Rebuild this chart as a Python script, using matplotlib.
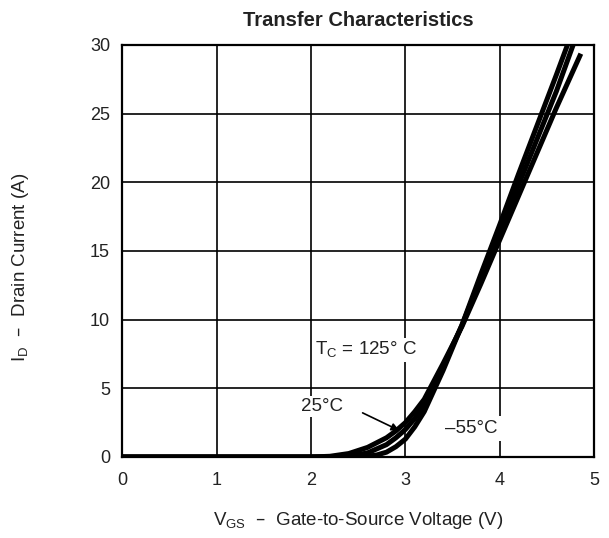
import matplotlib
matplotlib.use("Agg")
import matplotlib.pyplot as plt

plt.rcParams['font.family'] = ['Liberation Sans', 'DejaVu Sans']

# curves (Vgs in V, Id in A)
vgs_m55 = [0.0, 2.4, 2.6, 2.7, 2.8, 2.9, 3.0, 3.1, 3.2, 3.4, 3.6, 3.8, 4.0, 4.2, 4.4, 4.6, 4.8]
id_m55 = [0.0, 0.0, 0.05, 0.15, 0.35, 0.75, 1.3, 2.2, 3.3, 6.3, 9.6, 13.3, 16.9, 20.6, 24.2, 27.8, 31.5]

vgs_25 = [0.0, 2.2, 2.4, 2.6, 2.8, 2.9, 3.0, 3.1, 3.2, 3.4, 3.6, 3.8, 4.0, 4.2, 4.4, 4.6, 4.8]
id_25 = [0.0, 0.0, 0.05, 0.3, 0.9, 1.4, 2.0, 2.8, 3.8, 6.6, 9.6, 13.0, 16.4, 19.8, 23.2, 26.6, 30.4]

vgs_125 = [0.0, 2.0, 2.2, 2.4, 2.6, 2.8, 2.9, 3.0, 3.1, 3.2, 3.4, 3.6, 3.8, 4.0, 4.2, 4.4, 4.6, 4.85]
id_125 = [0.0, 0.0, 0.05, 0.25, 0.7, 1.4, 1.9, 2.5, 3.3, 4.2, 6.8, 9.5, 12.6, 15.8, 19.0, 22.2, 25.4, 29.2]

x_ticks = [0, 1, 2, 3, 4, 5]
y_ticks = [0, 5, 10, 15, 20, 25, 30]

fig = plt.figure(figsize=(6.09, 5.38), dpi=100)
ax = fig.add_axes([0.2011, 0.1506, 0.7742, 0.7658])

for v, i in [(vgs_m55, id_m55), (vgs_25, id_25), (vgs_125, id_125)]:
    ax.plot(v, i, color='black', linewidth=3.6, zorder=3)

ax.set_xlim(0, 5)
ax.set_ylim(0, 30)
ax.set_xticks(x_ticks)
ax.set_yticks(y_ticks)
ax.grid(True, color='black', linewidth=1.2)
ax.tick_params(length=0, labelsize=13, colors='#222222')
ax.tick_params(axis='x', pad=11)
ax.tick_params(axis='y', pad=9)
for s in ax.spines.values():
    s.set_linewidth(1.6)

box = dict(facecolor='white', edgecolor='none', pad=1.5)
ax.text(2.58, 7.8, 'T$_\\mathregular{C}$ = 125° C', fontsize=13.5, ha='center', va='center',
        bbox=box, zorder=4, color='#222222')
ax.text(2.12, 3.66, '25°C', fontsize=13.5, ha='center', va='center', bbox=box, zorder=4,
        color='#222222')
ax.text(3.70, 2.1, '–55°C', fontsize=13.5, ha='center', va='center',
        bbox=dict(facecolor='white', edgecolor='none', pad=3), zorder=4, color='#222222')
ax.annotate('', xy=(2.96, 1.85), xytext=(2.52, 3.3),
            arrowprops=dict(arrowstyle='-|>', color='black', lw=1.2, mutation_scale=11), zorder=5)

ax.set_title('Transfer Characteristics', fontsize=14.5, fontweight='bold', pad=14, color='#222222')
ax.set_xlabel('V$_\\mathregular{GS}$  –  Gate-to-Source Voltage (V)', fontsize=13.5, color='#222222')
ax.set_ylabel('I$_\\mathregular{D}$  –  Drain Current (A)', fontsize=13.5, color='#222222')
ax.xaxis.label.set_va('center')
ax.yaxis.label.set_va('center')
ax.xaxis.set_label_coords(0.5, -0.155)
ax.yaxis.set_label_coords(-0.217, 0.46)

fig.savefig('out.png', dpi=100)
